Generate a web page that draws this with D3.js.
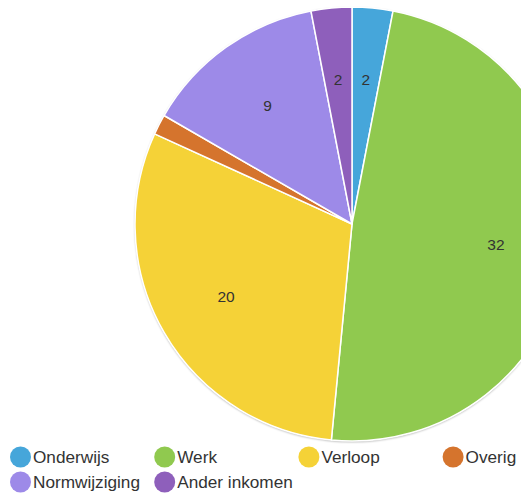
<!DOCTYPE html>
<html>
<head>
<meta charset="utf-8">
<script src="https://cdnjs.cloudflare.com/ajax/libs/d3/7.8.5/d3.min.js"></script>
<style>
    html, body { margin:0; padding:0; background:#fff; }
    svg { display:block; font-family: "Liberation Sans", Arial, sans-serif; }
</style>
</head>
<body>
<svg width="521" height="495"></svg>
<script>
    var categories = ["Onderwijs", "Werk", "Verloop", "Overig", "Normwijziging", "Ander inkomen"];
    var values = [2, 32, 20, 1, 9, 2];
    var colors = ["#46a6da", "#90c94f", "#f5d237", "#d5742d", "#9d8ae8", "#8e5fbb"];

    var svg = d3.select("svg"),
        cx = 352, cy = 224, radius = 217;

    var data = categories.map(function(c, i) { return {name: c, value: values[i], color: colors[i]}; });

    var pie = d3.pie().sort(null).value(function(d) { return d.value; });
    var arc = d3.arc().innerRadius(0).outerRadius(radius);
    var labelArc = d3.arc().innerRadius(radius * 0.67).outerRadius(radius * 0.67);

    var defs = svg.append("defs");
    var f = defs.append("filter").attr("id", "shadow").attr("x", "-10%").attr("y", "-10%").attr("width", "120%").attr("height", "120%");
    f.append("feDropShadow").attr("dx", 0).attr("dy", 1).attr("stdDeviation", 1.2).attr("flood-color", "#000").attr("flood-opacity", 0.35);

    var g = svg.append("g").attr("transform", "translate(" + cx + "," + cy + ")");

    g.append("circle").attr("r", radius).attr("fill", "#fff").attr("filter", "url(#shadow)");

    var slices = g.selectAll(".slice")
        .data(pie(data))
        .enter().append("g").attr("class", "slice");

    slices.append("path")
        .attr("d", arc)
        .attr("fill", function(d) { return d.data.color; })
        .attr("stroke", "#fff")
        .attr("stroke-width", 1.5)
        .attr("stroke-linejoin", "round");

    slices.filter(function(d) { return d.data.value > 1; })
        .append("text")
        .attr("transform", function(d) { return "translate(" + labelArc.centroid(d) + ")"; })
        .attr("text-anchor", "middle")
        .attr("dy", "0.35em")
        .attr("font-size", 15.5)
        .attr("fill", "#333")
        .text(function(d) { return d.data.value; });

    // legend
    var legend = svg.append("g").selectAll(".legend")
        .data(data)
        .enter().append("g")
        .attr("class", "legend")
        .attr("transform", function(d, i) {
            return "translate(" + (20.5 + (i % 4) * 144.2) + "," + (457 + Math.floor(i / 4) * 25) + ")";
        });

    legend.append("circle")
        .attr("r", 10.5)
        .attr("fill", function(d) { return d.color; });

    legend.append("text")
        .attr("x", 12.5)
        .attr("dy", "0.36em")
        .attr("font-size", 17.2)
        .attr("fill", "#333")
        .text(function(d) { return d.name; });
</script>
</body>
</html>
